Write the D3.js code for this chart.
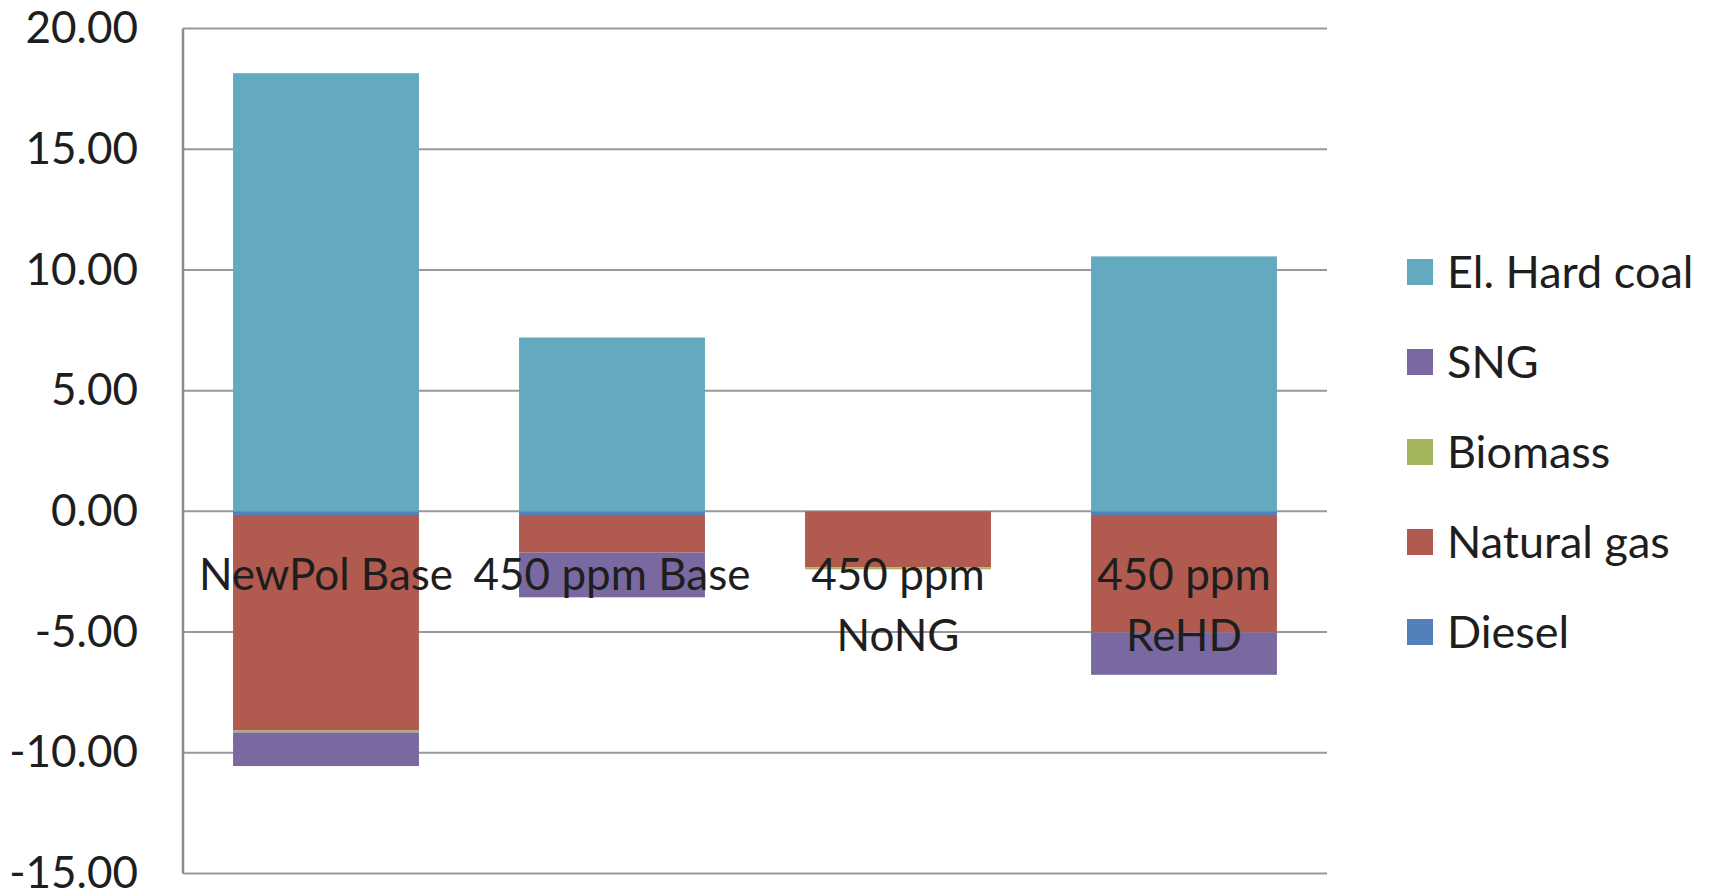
<!DOCTYPE html>
<html>
<head>
<meta charset="utf-8">
<script src="https://cdn.jsdelivr.net/npm/d3@7"></script>
<style>
  html, body { margin: 0; padding: 0; background: #ffffff; }
  svg { display: block; }
  text { font-family: Lato, "Open Sans", sans-serif; fill: #1e1e1e; }
</style>
</head>
<body>
<svg id="chart" width="1716" height="893"></svg>
<script>
// Scenario categories (label lines as wrapped on the axis)
const categories = ["NewPol Base", "450 ppm Base", "450 ppm NoNG", "450 ppm ReHD"];
const categoryLines = [["NewPol Base"], ["450 ppm Base"], ["450 ppm", "NoNG"], ["450 ppm", "ReHD"]];

// Series, in stacking order (first series sits nearest the zero line)
const seriesNames = ["Diesel", "Natural gas", "Biomass", "SNG", "El. Hard coal"];
const diesel      = [-0.15, -0.15,  0.00, -0.15];
const naturalGas  = [-8.93, -1.56, -2.32, -4.87];
const biomass     = [-0.08,  0.00, -0.08,  0.00];
const sng         = [-1.39, -1.85,  0.00, -1.75];
const elHardCoal  = [18.15,  7.20,  0.00, 10.56];
const seriesValues = [diesel, naturalGas, biomass, sng, elHardCoal];

const seriesColors = ["#5180bb", "#b05a50", "#a3b55b", "#7a69a0", "#63a9c0"];

// Axis ticks
const yTicks = [20, 15, 10, 5, 0, -5, -10, -15];

// Legend lists series top-down in reverse stacking order
const legendOrder = ["El. Hard coal", "SNG", "Biomass", "Natural gas", "Diesel"];

const svg = d3.select("#chart");
const plot = { left: 183, right: 1327, top: 28.5, bottom: 873.5 };
const fontSize = 44;

// Number format with a plain hyphen for negatives
const locale = d3.formatLocale({ decimal: ".", thousands: ",", grouping: [3], currency: ["", ""], minus: "-" });
const fmt = locale.format(".2f");

const x = d3.scaleBand()
  .domain(categories)
  .range([plot.left, plot.right])
  .paddingInner(0.35)
  .paddingOuter(0.175);

const y = d3.scaleLinear()
  .domain([-15, 20])
  .range([plot.bottom, plot.top]);

// Horizontal gridlines
svg.append("g")
  .selectAll("line")
  .data(yTicks)
  .join("line")
  .attr("x1", plot.left)
  .attr("x2", plot.right)
  .attr("y1", d => y(d))
  .attr("y2", d => y(d))
  .attr("stroke", "#999999")
  .attr("stroke-width", 2);

// Stack positive and negative values separately, like a stacked column chart
const rows = categories.map((c, i) => {
  const r = { category: c };
  seriesNames.forEach((s, k) => { r[s] = seriesValues[k][i]; });
  return r;
});
const stack = d3.stack().keys(seriesNames).offset(d3.stackOffsetDiverging);
const layers = stack(rows);

svg.append("g")
  .selectAll("g")
  .data(layers)
  .join("g")
  .attr("fill", (d, i) => seriesColors[i])
  .selectAll("rect")
  .data(d => d)
  .join("rect")
  .attr("x", d => x(d.data.category))
  .attr("width", x.bandwidth())
  .attr("y", d => y(Math.max(d[0], d[1])))
  .attr("height", d => Math.abs(y(d[0]) - y(d[1])));

// Vertical axis line
svg.append("line")
  .attr("x1", plot.left).attr("x2", plot.left)
  .attr("y1", plot.top).attr("y2", plot.bottom)
  .attr("stroke", "#8a8a8a")
  .attr("stroke-width", 2.5);

// Y tick labels
const yAxis = d3.axisLeft(y)
  .tickValues(yTicks)
  .tickFormat(fmt)
  .tickSize(0)
  .tickPadding(0);
const yAxisG = svg.append("g")
  .attr("transform", `translate(${plot.left - 45},0)`)
  .call(yAxis);
yAxisG.select(".domain").remove();
yAxisG.selectAll("text")
  .attr("font-size", fontSize)
  .attr("font-family", "Lato, sans-serif")
  .attr("fill", "#1e1e1e");

// Category labels, hanging below the zero line
const labelG = svg.append("g");
categories.forEach((c, i) => {
  const t = labelG.append("text")
    .attr("x", x(c) + x.bandwidth() / 2)
    .attr("y", 590)
    .attr("text-anchor", "middle")
    .attr("font-size", fontSize);
  categoryLines[i].forEach((line, j) => {
    t.append("tspan")
      .attr("x", x(c) + x.bandwidth() / 2)
      .attr("dy", j === 0 ? 0 : 61)
      .text(line);
  });
});

// Legend
const legend = svg.append("g");
legendOrder.forEach((name, i) => {
  const cy = 272 + i * 90;
  const k = seriesNames.indexOf(name);
  legend.append("rect")
    .attr("x", 1407).attr("y", cy - 13)
    .attr("width", 26).attr("height", 26)
    .attr("fill", seriesColors[k]);
  legend.append("text")
    .attr("x", 1447).attr("y", cy)
    .attr("dy", "0.35em")
    .attr("font-size", 45)
    .text(name);
});
</script>
</body>
</html>
